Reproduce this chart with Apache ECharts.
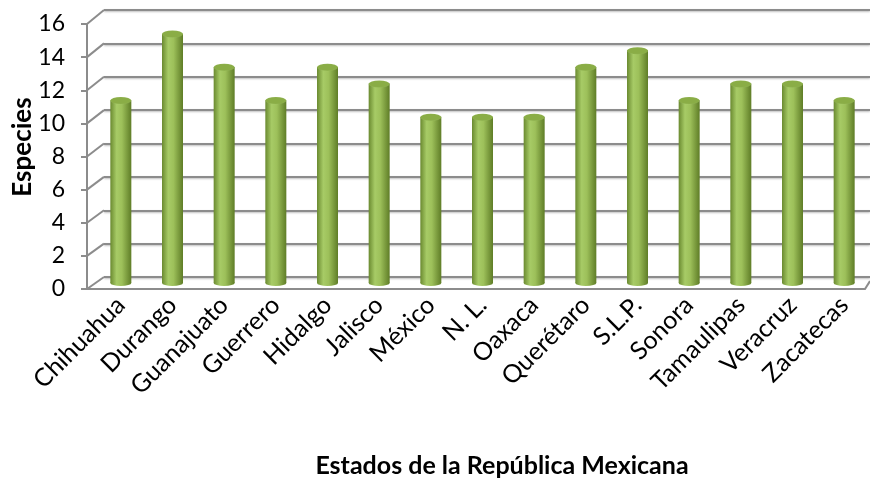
<!DOCTYPE html>
<html>
<head>
<meta charset="utf-8">
<script src="https://cdn.jsdelivr.net/npm/echarts@6/dist/echarts.min.js"></script>
<style>
  html, body { margin: 0; padding: 0; background: #fff; }
  #chart { width: 870px; height: 478px; }
</style>
</head>
<body>
<div id="chart"></div>
<script>
// Species count per Mexican state
const categories = ['Chihuahua', 'Durango', 'Guanajuato', 'Guerrero', 'Hidalgo', 'Jalisco', 'México',
  'N. L.', 'Oaxaca', 'Querétaro', 'S.L.P.', 'Sonora', 'Tamaulipas', 'Veracruz', 'Zacatecas'];
const especies = [11, 15, 13, 11, 13, 12, 10, 10, 10, 13, 14, 11, 12, 12, 11];
const yTicks = [0, 2, 4, 6, 8, 10, 12, 14, 16];

const FONT = 'Lato, "Open Sans", sans-serif';
const GRID_LINE = '#8c8c8c';

// Three stacked grids give the pseudo-3D look: back wall, front axis, and the bars in between
const gridBack = { left: 104, right: 0, top: 10, bottom: 201 };
const gridFront = { left: 87, right: 5, top: 24, bottom: 189 };
const gridBars = { left: 95, right: -4, top: 17, bottom: 195 };

const chart = echarts.init(document.getElementById('chart'), null, { renderer: 'canvas' });

const cylinderFill = new echarts.graphic.LinearGradient(0, 0, 1, 0, [
  { offset: 0, color: '#6a8a30' },
  { offset: 0.3, color: '#a7cb66' },
  { offset: 0.55, color: '#9dc05a' },
  { offset: 1, color: '#5f7d27' }
]);

const yMin = yTicks[0], yMax = yTicks[yTicks.length - 1], yStep = yTicks[1] - yTicks[0];

chart.setOption({
  backgroundColor: '#fff',
  animation: false,
  grid: [
    Object.assign({ containLabel: false }, gridBack),
    Object.assign({ containLabel: false }, gridFront),
    Object.assign({ containLabel: false }, gridBars)
  ],
  xAxis: [
    { gridIndex: 0, type: 'category', data: categories, show: false },
    {
      gridIndex: 1, type: 'category', data: categories,
      axisLine: { show: true, lineStyle: { color: GRID_LINE, width: 2 } },
      axisTick: { show: false }, axisLabel: { show: false }, splitLine: { show: false }
    },
    {
      gridIndex: 2, type: 'category', data: categories,
      axisLine: { show: false }, axisTick: { show: false }, splitLine: { show: false },
      axisLabel: {
        rotate: 45, margin: 18, interval: 0,
        color: '#000', fontFamily: FONT, fontSize: 25
      }
    }
  ],
  yAxis: [
    {
      gridIndex: 0, type: 'value', min: yMin, max: yMax, interval: yStep,
      axisLine: { show: false }, axisTick: { show: false }, axisLabel: { show: false },
      splitLine: {
        show: true,
        lineStyle: { color: GRID_LINE, width: 2, shadowColor: 'rgba(0,0,0,0.25)', shadowBlur: 2, shadowOffsetY: 1 }
      }
    },
    {
      gridIndex: 1, type: 'value', min: yMin, max: yMax, interval: yStep,
      axisLine: { show: true, lineStyle: { color: GRID_LINE, width: 2 } },
      axisTick: { show: true, inside: false, length: 6, lineStyle: { color: GRID_LINE, width: 2 } },
      axisLabel: { color: '#000', fontFamily: FONT, fontSize: 23, margin: 22 },
      splitLine: { show: false }
    },
    {
      gridIndex: 2, type: 'value', min: yMin, max: yMax, interval: yStep, show: false
    }
  ],
  series: [
    {
      type: 'bar', xAxisIndex: 2, yAxisIndex: 2, data: especies,
      barWidth: 21, z: 3,
      itemStyle: { color: cylinderFill }
    },
    {
      // rounded base of each cylinder
      type: 'pictorialBar', xAxisIndex: 2, yAxisIndex: 2, data: especies,
      symbol: 'circle', symbolSize: [21, 6], symbolPosition: 'start', symbolOffset: [0, '50%'],
      z: 2, itemStyle: { color: cylinderFill }
    },
    {
      // elliptical cap on top
      type: 'pictorialBar', xAxisIndex: 2, yAxisIndex: 2, data: especies,
      symbol: 'circle', symbolSize: [21, 7], symbolPosition: 'end', symbolOffset: [0, '-50%'],
      z: 4, itemStyle: { color: '#8aad46', borderColor: '#f3f8e6', borderWidth: 1.5 }
    }
  ]
});

// Side wall connectors: join every front-axis tick to the matching back-wall gridline
const connectors = yTicks.map(function (v) {
  const yFront = chart.convertToPixel({ yAxisIndex: 1 }, v);
  const yBack = chart.convertToPixel({ yAxisIndex: 0 }, v);
  return {
    type: 'line', z: 1,
    shape: { x1: gridFront.left, y1: yFront, x2: gridBack.left, y2: yBack },
    style: { stroke: GRID_LINE, lineWidth: 2 }
  };
});

// Right end of the floor: front edge bends back to the wall
const floorFront = chart.convertToPixel({ yAxisIndex: 1 }, yMin);
const floorBack = chart.convertToPixel({ yAxisIndex: 0 }, yMin);
connectors.push({
  type: 'line', z: 1,
  shape: { x1: 870 - gridFront.right, y1: floorFront, x2: 870 - gridBack.right, y2: floorBack + 4 },
  style: { stroke: GRID_LINE, lineWidth: 2 }
});

chart.setOption({
  graphic: connectors.concat([
    {
      // y-axis title
      type: 'text', x: 23, y: 147, rotation: Math.PI / 2, z: 10,
      style: {
        text: 'Especies', fill: '#000',
        font: 'bold 26px ' + FONT, textAlign: 'center', textVerticalAlign: 'middle'
      }
    },
    {
      // x-axis title
      type: 'text', x: 502, y: 466, z: 10,
      style: {
        text: 'Estados de la República Mexicana', fill: '#000',
        font: 'bold 25px ' + FONT, textAlign: 'center', textVerticalAlign: 'middle'
      }
    }
  ])
});
</script>
</body>
</html>
